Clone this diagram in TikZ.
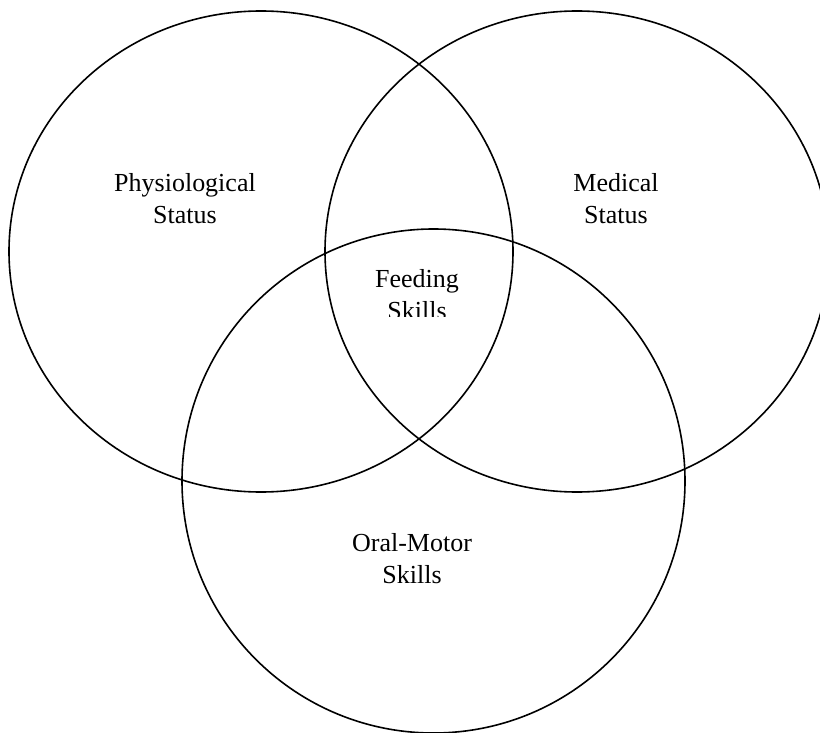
\documentclass[tikz,border=0pt]{standalone}
\usepackage{fontspec}
\setmainfont{Liberation Serif}
\begin{document}
\begin{tikzpicture}[x=1pt,y=-1pt,
  ring/.style={draw=black,line width=1.6pt},
  lbl/.style={align=center,inner sep=0pt,font=\fontsize{26}{32}\selectfont}]
\useasboundingbox (0,0) rectangle (820,733);
% circles
\draw[ring] (261,251.5) ellipse [x radius=252pt, y radius=240.5pt];
\draw[ring] (577,251.5) ellipse [x radius=252pt, y radius=240.5pt];
\draw[ring] (433.5,481) ellipse [x radius=251.5pt, y radius=252pt];
% labels
\node[lbl] (phys) at (185,199) {Physiological\\Status};
\node[lbl] (med) at (616,199) {Medical\\Status};
\begin{scope}
  \clip (0,0) rectangle (820,316);
  \node[lbl] (feed) at (417,295) {Feeding\\Skills};
\end{scope}
\node[lbl] (oral) at (412,559) {Oral-Motor\\Skills};
\end{tikzpicture}
\end{document}
